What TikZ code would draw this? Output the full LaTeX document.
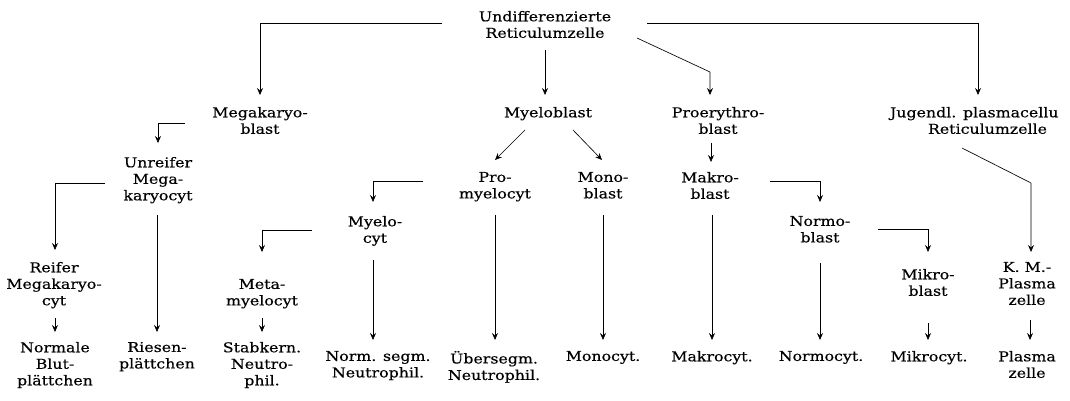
\documentclass[tikz,border=0pt]{standalone}
\usepackage{fontspec}
\setmainfont{DejaVu Serif}[FakeStretch=1.17,FakeBold=0.4]
\usetikzlibrary{arrows.meta,calc}
\begin{document}
\begin{tikzpicture}[x=1pt,y=-1pt,
  lbl/.style={font=\fontsize{13.5}{16.5}\selectfont, align=center, inner sep=0pt, outer sep=0pt, anchor=north},
  conn/.style={line width=0.65pt},
  arr/.style={conn,-{Stealth[length=7pt,width=6pt,inset=2.5pt]}}]
\useasboundingbox (0,0) rectangle (1070,400);
% nodes
\node[lbl] (und) at (545,11) {Undifferenzierte\\Reticulumzelle};
\node[lbl] (mkb) at (260,107) {Megakaryo-\\blast};
\node[lbl] (myb) at (548,107) {Myeloblast};
\node[lbl] (peb) at (718,107) {Proerythro-\\blast};
\node[lbl,anchor=north west,align=left] (jpr) at (890,107) {Jugendl. plasmacellu\\\hspace*{38pt}Reticulumzelle};
\node[lbl] (urm) at (158,157) {Unreifer\\Mega-\\karyocyt};
\node[lbl] (prm) at (495,172) {Pro-\\myelocyt};
\node[lbl] (mob) at (603,172) {Mono-\\blast};
\node[lbl] (mkr) at (710,172) {Makro-\\blast};
\node[lbl] (myc) at (375,216) {Myelo-\\cyt};
\node[lbl] (nob) at (820,216) {Normo-\\blast};
\node[lbl] (rmk) at (54,262) {Reifer\\Megakaryo-\\cyt};
\node[lbl] (mmc) at (262,279) {Meta-\\myelocyt};
\node[lbl] (mib) at (928,269) {Mikro-\\blast};
\node[lbl] (kmp) at (1027,262) {K. M.-\\Plasma\\zelle};
\node[lbl] (nbp) at (55,342) {Normale\\Blut-\\plättchen};
\node[lbl] (rpl) at (157,342) {Riesen-\\plättchen};
\node[lbl] (stn) at (262,342) {Stabkern.\\Neutro-\\phil.};
\node[lbl] (nsn) at (378,351) {Norm. segm.\\Neutrophil.};
\node[lbl] (usn) at (494,351) {Übersegm.\\Neutrophil.};
\node[lbl] (moc) at (603,351) {Monocyt.};
\node[lbl] (mkc) at (712,351) {Makrocyt.};
\node[lbl] (noc) at (821,351) {Normocyt.};
\node[lbl] (mic) at (929,351) {Mikrocyt.};
\node[lbl] (plz) at (1027,351) {Plasma\\zelle};
% free ends and bends
\coordinate (uL) at (442,23);
\coordinate (uR) at (647,23);
\coordinate (kJ) at (978,23);
\coordinate (uD) at (637,38);
\coordinate (kP) at (710,72);
\coordinate (mL) at (185,123);
\coordinate (uM) at (105,183);
\coordinate (pM) at (423,181);
\coordinate (mN) at (770,181);
\coordinate (jD) at (962,148);
\coordinate (kK) at (1031,183);
\coordinate (yM) at (312,230);
\coordinate (nM) at (878,229);
% connectors
\draw[arr] (uL) -| ($(mkb.north)+(0,-12)$);
\draw[arr] ($(und.north)+(0,39)$) -- ($(und.north |- myb.north)+(0,-12)$);
\draw[arr] (uD) -- (kP) -- ($(kP |- peb.north)+(0,-12)$);
\draw[arr] (uR) -- (kJ) -- ($(kJ |- jpr.north)+(0,-12)$);
\draw[arr] (mL) -| ($(urm.north)+(0,-14)$);
\draw[arr] ($(myb.north)+(-23,23)$) -- ($(prm.north)+(0,-12)$);
\draw[arr] ($(myb.north)+(25,23)$) -- ($(mob.north)+(-1,-12)$);
\draw[arr] ($(peb.north)+(-7,36)$) -- ($(mkr.north)+(1,-10)$);
\draw[arr] (uM) -| ($(rmk.north)+(1,-12)$);
\draw[arr] ($(urm.north)+(-1,58)$) -- ($(rpl.north)+(0,-10)$);
\draw[arr] (pM) -| ($(myc.north)+(-2,-14)$);
\draw[arr] ($(prm.north)+(0,43)$) -- ($(usn.north)+(1,-11)$);
\draw[arr] ($(mob.north)+(0,43)$) -- ($(moc.north)+(0,-11)$);
\draw[arr] ($(mkr.north)+(2,43)$) -- ($(mkc.north)+(0,-11)$);
\draw[arr] (mN) -| ($(nob.north)+(0,-14)$);
\draw[arr] (jD) -- (kK) -- ($(kK |- kmp.north)+(0,-10)$);
\draw[arr] (yM) -| ($(mmc.north)+(0,-27)$);
\draw[arr] ($(myc.north)+(-2,44)$) -- ($(nsn.north)+(-5,-11)$);
\draw[arr] ($(nob.north)+(0,47)$) -- ($(noc.north)+(-1,-11)$);
\draw[arr] (nM) -| ($(mib.north)+(0,-17)$);
\draw[arr] ($(rmk.north)+(1,56)$) -- ($(nbp.north)+(0,-10)$);
\draw[arr] ($(mmc.north)+(0,39)$) -- ($(stn.north)+(0,-10)$);
\draw[arr] ($(mib.north)+(0,54)$) -- ($(mic.north)+(-1,-11)$);
\draw[arr] ($(kmp.north)+(3,58)$) -- ($(plz.north)+(3,-11)$);
\end{tikzpicture}
\end{document}
